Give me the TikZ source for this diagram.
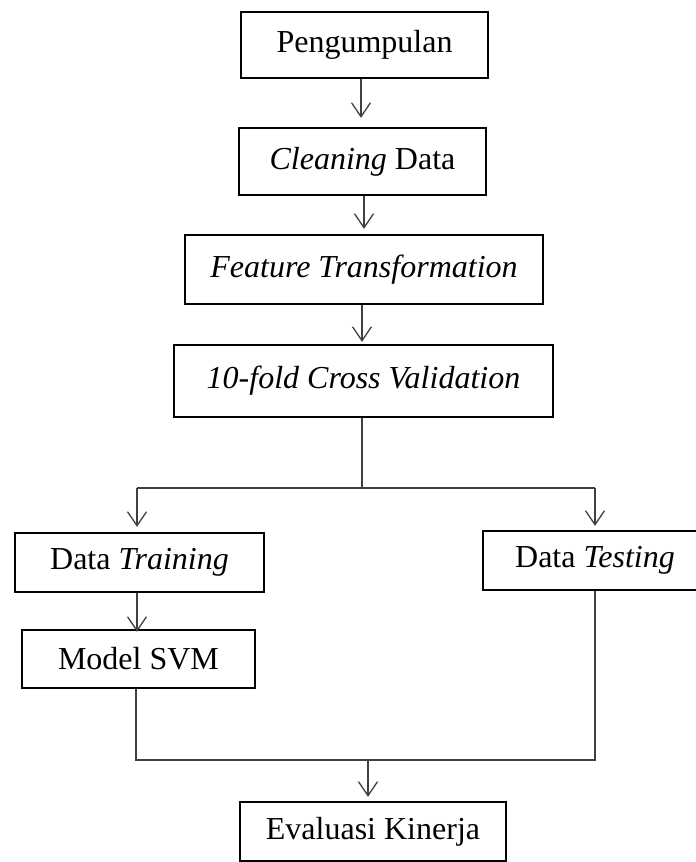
\documentclass[tikz,border=0pt]{standalone}
\usepackage{fontspec}
\setmainfont{Liberation Serif}
\usetikzlibrary{arrows.meta}
\begin{document}
\begin{tikzpicture}[x=1pt,y=-1pt,
  box/.style={draw=black, line width=2.3pt, rectangle, inner sep=0pt,
    font=\fontsize{32}{38}\selectfont, anchor=center},
  conn/.style={draw=black!75, line width=1.3pt},
  arr/.style={conn, -{Straight Barb[length=14pt,width=19pt,line width=1.3pt]}}
]
\useasboundingbox (0,0) rectangle (696,862);
\clip (0,0) rectangle (696,862);
\fill[white] (0,0) rectangle (696,862);

\node[box, minimum width=247pt, minimum height=66pt] (P) at (364.5,45) {Pengumpulan};
\node[box, minimum width=247pt, minimum height=67pt] (C) at (362.5,161.5) {\textit{Cleaning} Data};
\node[box, minimum width=358pt, minimum height=69pt] (F) at (364,269.5) {\textit{Feature Transformation}};
\node[box, minimum width=379pt, minimum height=72pt] (V) at (363.5,381) {\textit{10-fold Cross Validation}};
\node[box, minimum width=249pt, minimum height=59pt] (T) at (139.5,562.5) {Data \textit{Training}};
\node[box, minimum width=224pt, minimum height=59pt] (S) at (595,560.5) {Data \textit{Testing}};
\node[box, minimum width=233pt, minimum height=58pt] (M) at (138.5,659) {Model SVM};
\node[box, minimum width=266pt, minimum height=59pt] (E) at (373,831.5) {Evaluasi Kinerja};

\coordinate (a1) at (361,0);
\coordinate (a2) at (364,0);
\coordinate (a3) at (362,0);
\coordinate (vx) at (362,0);
\coordinate (split) at (362,488);
\coordinate (tl) at (137,488);
\coordinate (tr) at (595,488);
\coordinate (bl) at (136,760);
\coordinate (br) at (595,760);
\coordinate (join) at (368,760);

\draw[arr, shorten >=9pt] (P.south -| a1) -- (C.north -| a1);
\draw[arr, shorten >=5pt] (C.south -| a2) -- (F.north -| a2);
\draw[arr, shorten >=2pt] (F.south -| a3) -- (V.north -| a3);

\draw[conn] (V.south -| vx) -- (split);
\draw[conn] (tl) -- (tr);
\draw[arr, shorten >=5pt] (tl) -- (T.north -| tl);
\draw[arr, shorten >=4pt] (tr) -- (S.north -| tr);

\draw[arr, shorten >=-3pt] (T.south -| tl) -- (M.north -| tl);

\draw[conn] (M.south -| bl) -- (bl) -- (br) -- (S.south -| br);
\draw[arr, shorten >=4pt] (join) -- (E.north -| join);
\end{tikzpicture}
\end{document}
